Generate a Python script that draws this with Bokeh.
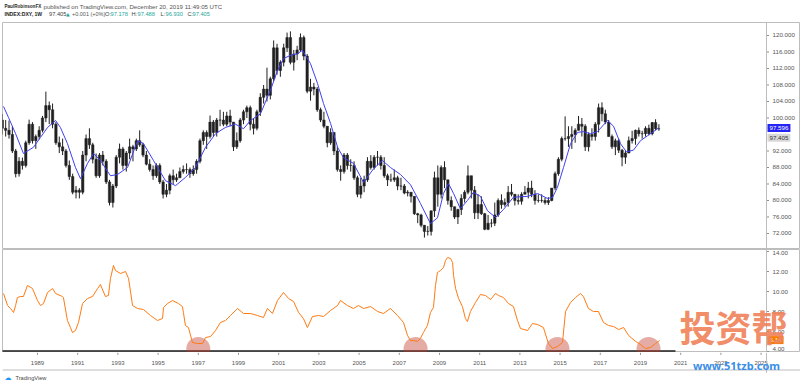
from bokeh.plotting import figure
from bokeh.models import Range1d, Label, ColumnDataSource, Span
from bokeh.layouts import column
from bokeh.core.properties import value
from bokeh.embed import file_html
from bokeh.resources import INLINE

FONT = "Liberation Sans"

# ---------------- data ----------------
# bi-monthly candles of INDEX:DXY, first period = Mar-Apr 1987
period_start = 1987 + 2 / 12
first_open = 99.5
close_ = [97.5, 97, 96, 92, 86.5,
          89.5, 88.5, 94, 98.5, 94.5, 95.5,
          97, 100, 103, 102, 98.5, 94,
          93, 92, 88.5, 85.8, 82, 82.5,
          82, 91, 95, 93.5, 90, 86,
          91, 89.5, 84.5, 79.5, 83.5, 90.5,
          92.5, 88.5, 91.5, 93, 92.5, 94.5,
          93.5, 91, 88.8, 87.5, 86, 88.5,
          84.5, 81.5, 82.5, 86, 85, 85.5,
          87, 87.5, 87.5, 86.5, 87.5, 89.5,
          94.5, 96.5, 95.5, 99, 96.5, 99.5,
          99.5, 98.5, 100.5, 99, 93, 94.5,
          99.5, 101.5, 102.5, 98.5, 97.5, 101.5,
          105, 107, 105.5, 109.5, 117, 111.5,
          113.5, 117, 119.5, 113.5, 115.5, 116.5,
          119.5, 115, 106.5, 107.5, 107, 102,
          99.5, 98, 94, 96.5, 92, 87.5,
          87, 91, 88.5, 88.5, 85.5, 81.5,
          83.5, 85, 89.5, 88, 90.5, 90.5,
          88.5, 86, 85, 85, 85.5, 83.5,
          83.5, 81.8, 82, 81, 76.8, 76.5,
          74, 72.5, 72.5, 77.5, 85.5, 81.5,
          88, 85, 80, 78.5, 76, 77.8,
          80.5, 82, 86, 82.5, 77, 79,
          76.8, 73, 74.5, 74.5, 76.5, 80,
          79, 79.5, 82, 81.5, 80, 79.8,
          81.5, 82, 83, 81.5, 80, 80,
          80, 79.5, 80, 83, 86.5, 90,
          95, 95, 95.5, 96, 97, 98.5,
          98, 93, 96, 95.5, 98.5, 102.5,
          101, 99, 95.5, 93, 94.5, 92.2,
          90.5, 91.5, 94.5, 95, 97, 96.2,
          96.2, 97.5, 96.2, 98.9, 97.4, 97.4]
high_ = [101, 99.5, 99.4, 98, 92.5,
         90.5, 90.4, 94.5, 99.6, 99, 96,
         98, 100.5, 106.4, 104, 103.5, 99,
         95.5, 95, 92.5, 89.7, 86.5, 83.5,
         83, 92, 96, 97.5, 94, 91.4,
         91.5, 92, 90, 85, 84, 91,
         93.8, 93, 92, 95, 93.5, 95,
         97, 94, 92, 90, 88.5, 89,
         89, 85, 84, 86.5, 87.5, 86.5,
         88, 88.5, 89, 88, 88.5, 90,
         95, 97, 97, 100.6, 99.5, 100,
         102, 101.5, 101.5, 102, 99, 96.5,
         100, 102, 103, 103, 100, 102,
         106, 108, 112.2, 110, 118.8, 118,
         114, 118, 120.7, 121, 116.5, 117.5,
         120.5, 120, 115.5, 109.5, 108.5, 107.5,
         102.5, 101.5, 98, 97.5, 96.5, 93,
         88.5, 91.5, 91.5, 90, 89.5, 86,
         85.5, 86, 90.5, 91, 91, 92,
         91, 90.5, 86.5, 86.5, 87.5, 86,
         85.5, 84, 82.5, 82, 81, 77,
         76.8, 74, 73.8, 77.5, 87, 88.5,
         88.5, 89.5, 85, 81, 78.5, 78,
         81.5, 82.5, 88.5, 86, 83.5, 81.5,
         81, 77, 76.5, 75.5, 79.5, 80.5,
         81.5, 80.5, 83.5, 84, 81.5, 81.5,
         82, 83.5, 84.5, 84.8, 82.5, 81.5,
         81.5, 80.7, 80.8, 83, 87, 90.5,
         95.5, 100.4, 98, 98, 97.5, 100.5,
         100, 98.5, 96.5, 97.5, 99, 103.5,
         103.8, 102, 99.5, 96, 95, 95,
         92.5, 92, 95.5, 96.9, 97.2, 97.7,
         96.9, 98, 98.4, 99, 99.7, 98.5]
low_ = [96, 95.5, 95, 91.5, 85.6,
        85.8, 87.5, 88, 93.5, 93.8, 92.5,
        94.8, 96.5, 99, 98.5, 97.5, 93.5,
        91.5, 91, 88, 85, 81.5, 80.5,
        80.5, 81.5, 89.5, 92.5, 89, 85.5,
        85.5, 88.5, 84, 78.8, 78.3, 83,
        89, 87.5, 87, 90, 89.5, 92,
        93, 90.5, 88.5, 87, 85, 85.5,
        84, 80.5, 80.8, 81.5, 84, 84.5,
        85.5, 86.5, 86.5, 85.5, 86, 86.5,
        89, 93.5, 92.5, 95, 95.5, 95.5,
        98, 98, 98, 98, 92, 92.5,
        94, 98.5, 100, 97, 96, 97,
        100.5, 103.5, 104, 104.5, 109, 110.5,
        110, 112.5, 116, 113, 111.5, 114,
        116, 114, 106, 104.2, 105.5, 101.5,
        99, 97.5, 92.9, 93.5, 91, 87,
        84.8, 86.5, 87.5, 87, 85, 80.8,
        80.5, 82, 84.5, 87.5, 87.5, 88.5,
        87.5, 85.5, 83.5, 84.5, 84.5, 82.5,
        82.5, 81.5, 81, 79.5, 76.5, 74.5,
        73.5, 71, 71.5, 71.5, 76, 78.5,
        80.5, 83, 79, 77.5, 75.5, 74.3,
        76.5, 79.5, 81.5, 80.5, 75.5, 75.5,
        76.5, 72.8, 72.8, 73.5, 73.8, 76,
        78, 78.5, 78.5, 81, 78.8, 79,
        79, 81.5, 80.5, 80.8, 79, 79.5,
        79.5, 79, 78.9, 79.8, 82.5, 86,
        89.5, 94.5, 93, 92.5, 94, 97,
        95.5, 92, 91.9, 94.5, 94.5, 96.5,
        99.2, 98.5, 95.5, 92.5, 91, 91.5,
        88.3, 88.9, 91.5, 93.8, 93.5, 95.5,
        95, 95.5, 95.8, 95.8, 97, 96.9]

# moving average (blue line)
ma_year = [1987.31, 1987.56, 1987.91, 1988.30, 1988.80, 1989.15, 1989.50, 1989.90, 1990.14, 1990.49,
           1990.89, 1991.14, 1991.49, 1991.79, 1992.13, 1992.63, 1992.98, 1993.48, 1993.98, 1994.27,
           1994.77, 1995.37, 1995.87, 1996.36, 1996.86, 1997.36, 1997.86, 1998.35, 1998.85, 1999.25,
           1999.60, 2000.09, 2000.59, 2000.94, 2001.24, 2001.59, 2001.94, 2002.18, 2002.58, 2002.93,
           2003.23, 2003.58, 2003.93, 2004.22, 2004.72, 2005.22, 2005.72, 2006.16, 2006.56, 2007.06,
           2007.56, 2008.05, 2008.55, 2008.90, 2009.20, 2009.45, 2009.70, 2010.04, 2010.39, 2010.69,
           2011.04, 2011.39, 2011.79, 2012.18, 2012.68, 2013.38, 2013.88, 2014.37, 2014.62, 2014.87,
           2015.17, 2015.52, 2015.87, 2016.16, 2016.51, 2016.86, 2017.36, 2017.66, 2018.00, 2018.30,
           2018.65, 2019.00, 2019.35, 2019.65, 2019.90]
ma_val = [102.8, 100.1, 96.2, 91.4, 92.9, 95.3, 97.7, 99.4, 97.7, 93.8,
          88.0, 85.3, 89.0, 91.4, 89.7, 86.0, 86.3, 88.0, 94.5, 93.8,
          89.7, 84.8, 83.6, 85.6, 88.0, 92.9, 96.2, 97.7, 98.5, 97.4,
          99.4, 101.0, 106.7, 111.5, 114.4, 115.2, 115.6, 116.4, 113.2, 108.4,
          103.5, 98.7, 92.9, 90.4, 89.0, 84.4, 87.7, 89.7, 88.0, 86.3,
          83.8, 79.3, 74.4, 75.8, 81.7, 84.1, 81.7, 78.0, 80.0, 82.0,
          81.0, 77.5, 75.9, 77.8, 80.8, 81.0, 81.7, 80.5, 80.7, 83.2,
          88.0, 93.8, 96.5, 96.7, 96.2, 96.7, 99.4, 98.0, 93.8, 91.8,
          92.2, 94.5, 95.7, 96.7, 97.6]

# lower pane indicator (orange line)
ind_year = [1987.31, 1987.51, 1987.66, 1987.81, 1987.91, 1988.00, 1988.15, 1988.30, 1988.50, 1988.75,
            1989.00, 1989.15, 1989.30, 1989.50, 1989.75, 1989.90, 1990.24, 1990.29, 1990.49, 1990.64,
            1990.74, 1990.89, 1991.04, 1991.24, 1991.49, 1991.74, 1991.99, 1992.13, 1992.38, 1992.53,
            1992.63, 1992.78, 1992.88, 1993.13, 1993.38, 1993.53, 1993.73, 1993.98, 1994.27, 1994.62,
            1994.97, 1995.22, 1995.27, 1995.47, 1995.72, 1996.01, 1996.21, 1996.26, 1996.36, 1996.51,
            1996.71, 1996.96, 1997.21, 1997.36, 1997.61, 1997.86, 1998.10, 1998.35, 1998.60, 1998.95,
            1999.25, 1999.60, 1999.95, 2000.24, 2000.44, 2000.69, 2000.94, 2001.24, 2001.49, 2001.74,
            2001.99, 2002.23, 2002.43, 2002.68, 2002.98, 2003.23, 2003.58, 2003.93, 2004.07, 2004.42,
            2004.72, 2004.97, 2005.22, 2005.57, 2005.92, 2006.21, 2006.56, 2006.91, 2007.21, 2007.41,
            2007.56, 2007.71, 2007.91, 2008.05, 2008.20, 2008.40, 2008.55, 2008.70, 2008.80, 2008.90,
            2009.05, 2009.20, 2009.30, 2009.40, 2009.55, 2009.65, 2009.70, 2009.80, 2009.95, 2010.14,
            2010.29, 2010.39, 2010.54, 2010.79, 2011.04, 2011.29, 2011.54, 2011.79, 2011.94, 2012.18,
            2012.43, 2012.68, 2012.88, 2013.03, 2013.38, 2013.63, 2013.88, 2014.17, 2014.42, 2014.62,
            2014.87, 2015.12, 2015.27, 2015.52, 2015.77, 2016.01, 2016.16, 2016.41, 2016.66, 2016.91,
            2017.16, 2017.41, 2017.66, 2017.91, 2018.16, 2018.41, 2018.76, 2019.00, 2019.25, 2019.50,
            2019.75, 2019.95]
ind_val = [9.8, 8.6, 8.3, 7.9, 8.6, 9.4, 9.5, 9.5, 10.6, 10.3,
           9.1, 8.6, 8.8, 9.9, 10.3, 9.8, 9.5, 9.4, 7.1, 6.4,
           5.9, 6.1, 6.9, 8.8, 9.3, 9.5, 10.3, 10.7, 9.5, 9.6,
           11.3, 12.6, 12.1, 11.8, 12.0, 11.3, 8.6, 8.3, 8.2, 7.6,
           7.1, 7.3, 8.4, 8.8, 9.1, 8.8, 8.5, 7.9, 6.6, 6.4,
           4.9, 4.8, 4.8, 5.4, 5.5, 6.1, 6.9, 7.1, 7.6, 8.3,
           7.8, 7.8, 7.6, 7.4, 8.3, 7.8, 9.1, 9.9, 9.3, 9.0,
           7.9, 7.3, 6.4, 7.5, 7.6, 7.5, 8.1, 8.6, 9.1, 8.6,
           8.3, 8.6, 8.3, 8.5, 8.0, 7.8, 8.3, 7.6, 6.9, 5.6,
           5.1, 5.1, 5.0, 5.3, 5.9, 6.6, 7.9, 8.4, 10.6, 11.9,
           12.1, 12.4, 13.1, 13.4, 13.3, 12.9, 11.6, 10.3, 9.3, 8.5,
           7.3, 7.0, 8.0, 8.9, 9.7, 9.6, 9.2, 9.8, 9.6, 9.4,
           8.8, 8.5, 7.1, 6.3, 6.1, 6.8, 6.7, 6.4, 4.8, 4.3,
           4.5, 4.9, 8.0, 8.9, 9.4, 9.8, 9.5, 8.3, 8.0, 8.0,
           6.9, 6.6, 6.5, 6.2, 6.4, 5.6, 5.0, 4.7, 4.3, 4.4,
           4.8, 5.1]

# highlighted lows (red circles) and the drawn support line
circle_year = [1997.0, 2007.81, 2014.87, 2019.40]
circle_val = [4.25, 4.25, 4.25, 4.25]
support_val = 4.05
support_from, support_to = 1987.0, 2020.74

price_ticks = [72, 76, 80, 84, 88, 92, 100, 104, 108, 112, 116, 120]
ind_ticks = [4, 6, 8, 10, 12, 14]
year_ticks = list(range(1989, 2026, 2))

last_close = 97.405
last_ma = 97.596
last_ind = 5.14
TIME_SCALE = (1987.259, 2025.269)      # time span of the chart area (left of the price scale)
PRICE_RANGE = (68.12, 123.15)
IND_RANGE = (3.9, 14.2)

W, PANE_W, SCALE_W = 800, 764, 34
HDR_H, P1_H, P2_H, TAX_H, FTR_H = 22, 227, 103, 21, 12

px_per_year = PANE_W / (TIME_SCALE[1] - TIME_SCALE[0])
X_RANGE = (TIME_SCALE[0], TIME_SCALE[1] + SCALE_W / px_per_year)
EDGE = TIME_SCALE[1]
GRID = "#bdbdbd"


# ---------------- helpers ----------------
def blank(fig):
    fig.grid.visible = False
    fig.outline_line_color = None
    fig.background_fill_color = "white"
    fig.border_fill_color = "white"
    return fig


def strip(height, x_range):
    return blank(figure(frame_width=W - 2, frame_height=height, x_range=x_range,
                        y_range=Range1d(height, 0), output_backend="svg", toolbar_location=None,
                        x_axis_location=None, y_axis_location=None, min_border=0,
                        min_border_left=2))


def txt(fig, x, y, s, size, color="#3a3a3a", bold=False, font=FONT, align="left",
        xu="data", yu="data", **kw):
    fig.add_layout(Label(x=x, y=y, x_units=xu, y_units=yu, text=s, text_font=font,
                         text_font_size=f"{size}px", text_color=color,
                         text_font_style="bold" if bold else "normal",
                         text_align=align, text_baseline="middle", **kw))


def pane(height, y_range):
    p = blank(figure(frame_width=W - 2, frame_height=height, x_range=Range1d(*X_RANGE),
                     y_range=Range1d(*y_range), output_backend="svg", toolbar_location=None,
                     x_axis_location=None, y_axis_location=None, min_border=0, min_border_left=2))
    p.outline_line_color = GRID
    p.add_layout(Span(location=EDGE, dimension="height", line_color=GRID, line_width=1))
    return p


def price_scale(p, ticks, fmt, y_range, height):
    """right-hand price scale drawn with the pane's own scales"""
    k = len(ticks)
    lo, hi = y_range
    pad = 3.6 * (hi - lo) / height            # keep the labels inside the pane
    label_y = [min(max(t, lo + pad), hi - pad) for t in ticks]
    p.segment(x0=[EDGE] * k, y0=ticks, x1=[EDGE + 2.5 / px_per_year] * k, y1=ticks,
              line_color="#8f8f8f", line_width=1)
    p.text(x=[EDGE] * k, y=label_y, text=[fmt.format(t) for t in ticks], x_offset=6,
           text_font=value(FONT), text_font_size="6.2px", text_color="#555555",
           text_baseline="middle", text_align="left")


def marker(p, yv, s, bg, fg, y_offset=0):
    p.add_layout(Label(x=EDGE, y=yv, x_offset=1, y_offset=y_offset, text=s, text_font=FONT,
                       text_font_size="6.2px", text_color=fg, text_baseline="middle",
                       background_fill_color=bg, padding=2))


# ---------------- header ----------------
hdr = blank(figure(frame_width=W, frame_height=HDR_H, x_range=Range1d(0, W),
                   y_range=Range1d(HDR_H, 0), output_backend="svg", toolbar_location=None,
                   x_axis_location=None, y_axis_location=None, min_border=0))
TEAL = "#26a69a"
txt(hdr, 2, 5.7, "PaulRobinsonFX", 4.6, color="#2a2a2a", bold=True)
txt(hdr, 41, 5.7, "published on TradingView.com, December 20, 2019 11:49:05 UTC", 6.1, color="#555555")
txt(hdr, 2, 13.6, "INDEX:DXY, 1W", 5.1, color="#222222", bold=True)
txt(hdr, 46.5, 13.6, "97.405", 5.7, color="#444444")
txt(hdr, 63.5, 13.6, "▲", 4.8, color=TEAL, font="DejaVu Sans")
txt(hdr, 69.5, 13.6, "+0.001 (+0%)", 5.5, color="#555555")
txt(hdr, 102.5, 13.6, "O:", 5.7, color="#444444")
txt(hdr, 108, 13.6, "97.178", 5.7, color=TEAL)
txt(hdr, 129, 13.6, "H:", 5.7, color="#444444")
txt(hdr, 135, 13.6, "97.488", 5.7, color=TEAL)
txt(hdr, 158, 13.6, "L:", 5.7, color="#444444")
txt(hdr, 163, 13.6, "96.930", 5.7, color=TEAL)
txt(hdr, 185, 13.6, "C:", 5.7, color="#444444")
txt(hdr, 190, 13.6, "97.405", 5.7, color=TEAL)

# ---------------- price pane ----------------
p1 = pane(P1_H, PRICE_RANGE)
n = len(close_)
cx = [period_start + 1 / 12 + i / 6 for i in range(n)]
open_ = [first_open] + close_[:-1]
src = ColumnDataSource(dict(
    x=cx, high=high_, low=low_,
    top=[max(o, c) for o, c in zip(open_, close_)],
    bottom=[min(o, c) for o, c in zip(open_, close_)]))
p1.segment(x0="x", y0="low", x1="x", y1="high", source=src, line_color="#202020", line_width=1)
p1.vbar(x="x", width=0.12, top="top", bottom="bottom", source=src,
        fill_color="#202020", line_color="#202020", line_width=0.5)
p1.line(ma_year, ma_val, line_color="#4040f0", line_width=1)
price_scale(p1, price_ticks, "{:.3f}", PRICE_RANGE, P1_H)
marker(p1, last_ma, f"{last_ma:.3f}", "#2424f5", "white")
marker(p1, last_close, f"{last_close:.3f}", "#d9d9d9", "#333333", y_offset=-9)

# ---------------- indicator pane ----------------
p2 = pane(P2_H, IND_RANGE)
p2.segment(x0=[support_from], y0=[support_val], x1=[support_to], y1=[support_val],
           line_color="#1c1c1c", line_width=1.6)
p2.scatter(circle_year, circle_val, marker="circle", size=24,
           fill_color="#c0392b", fill_alpha=0.42, line_color=None)
p2.line(ind_year, ind_val, line_color="#ff7a12", line_width=1)
price_scale(p2, ind_ticks, "{:.2f}", IND_RANGE, P2_H)
marker(p2, last_ind, f"{last_ind:.2f}", "#f57c00", "white")
# watermark
txt(p2, 677, 26.5, "投资帮", 36, color="#f0825a", bold=True, font="Noto Sans CJK SC",
    xu="screen", yu="screen", text_alpha=0.92)

# ---------------- time scale strip ----------------
tax = strip(TAX_H, p1.x_range)
tax.add_layout(Span(location=EDGE, dimension="height", line_color=GRID, line_width=1))
tax.add_layout(Span(location=17.5, dimension="width", line_color=GRID, line_width=1))
k = len(year_ticks)
tax.segment(x0=year_ticks, y0=[0] * k, x1=year_ticks, y1=[2.5] * k,
            line_color="#9a9a9a", line_width=1)
tax.text(x=year_ticks, y=[10] * k, text=[str(t) for t in year_ticks],
         text_font=value(FONT), text_font_size="6px", text_color="#555555",
         text_align="center", text_baseline="middle")
txt(tax, 734, 13, "www.51tzb.com", 11, color="#3a8ee8", bold=True, font="Noto Sans",
    align="center", xu="screen", yu="data")

# ---------------- footer ----------------
ftr = blank(figure(frame_width=W, frame_height=FTR_H, x_range=Range1d(0, W),
                   y_range=Range1d(FTR_H, 0), output_backend="svg", toolbar_location=None,
                   x_axis_location=None, y_axis_location=None, min_border=0))
txt(ftr, 2, 4.8, "☁", 7, color="#2196f3", font="DejaVu Sans")
txt(ftr, 13, 4.8, "TradingView", 5.6, color="#444444")

layout = column(hdr, p1, p2, tax, ftr, spacing=0)
open("out.html", "w").write(file_html(layout, INLINE))
